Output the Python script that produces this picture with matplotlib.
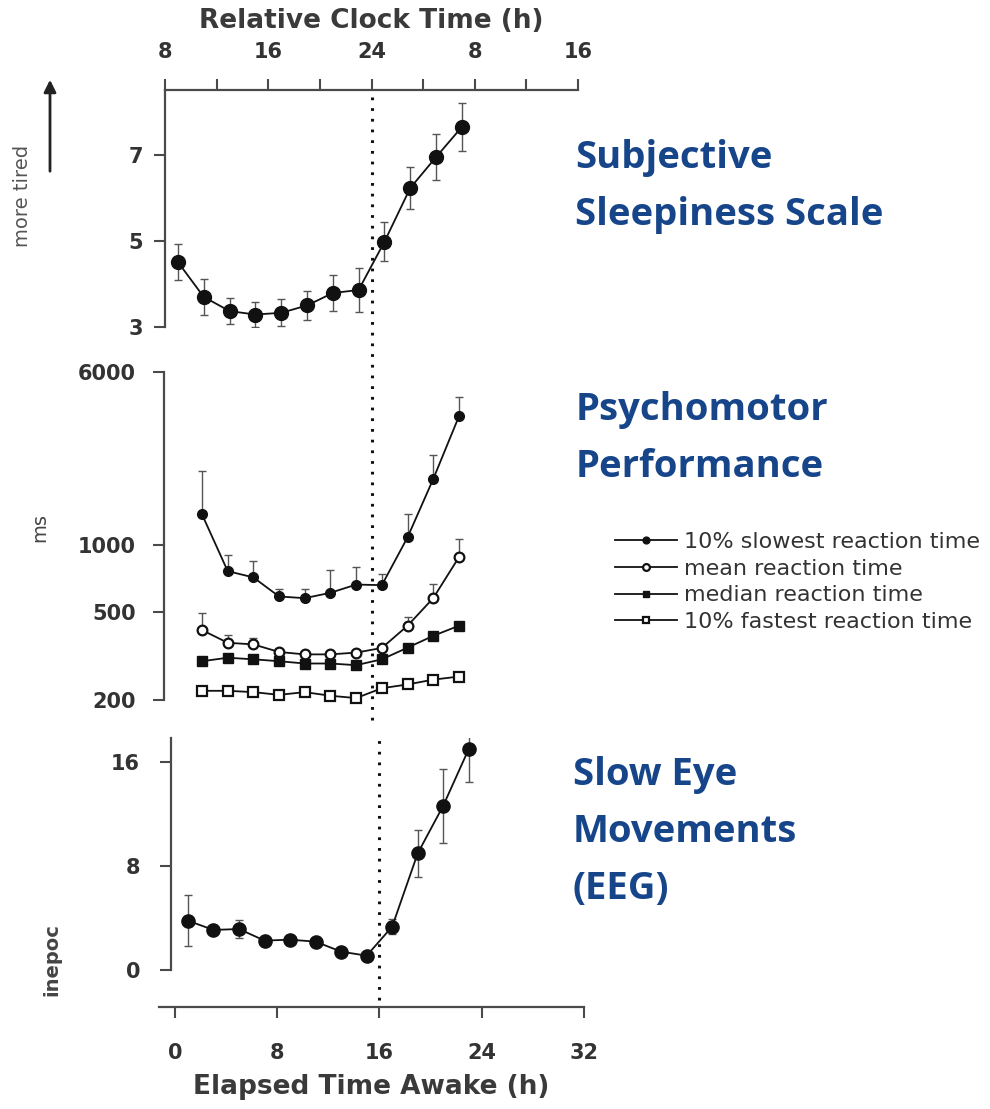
import matplotlib
matplotlib.use("Agg")
import matplotlib.pyplot as plt
from matplotlib.ticker import NullLocator

# ---- data -------------------------------------------------------------
# Subjective sleepiness (Stanford scale), mean +/- SEM
hours_sss = [1, 3, 5, 7, 9, 11, 13, 15, 17, 19, 21, 23]
sss_mean = [4.51, 3.70, 3.37, 3.29, 3.33, 3.50, 3.79, 3.86, 4.98, 6.23, 6.95, 7.65]
sss_err = [0.41, 0.42, 0.31, 0.30, 0.31, 0.34, 0.41, 0.52, 0.45, 0.49, 0.53, 0.55]

# Psychomotor vigilance reaction times (ms)
hours_pvt = [3, 5, 7, 9, 11, 13, 15, 17, 19, 21, 23]
rt_slowest = [1370, 761, 713, 585, 575, 608, 662, 658, 1080, 1977, 3785]
rt_slowest_err = [790, 140, 135, 45, 55, 160, 134, 80, 290, 550, 850]
rt_mean = [413, 362, 356, 329, 321, 321, 327, 343, 432, 575, 879]
rt_mean_err = [80, 31, 25, 10, 8, 8, 10, 14, 40, 93, 182]
rt_median = [299, 310, 305, 299, 292, 292, 287, 305, 344, 389, 432]
rt_fastest = [220, 220, 217, 211, 217, 209, 204, 226, 235, 247, 255]

# Slow eye movements in the EEG/EOG
hours_sem = [1, 3, 5, 7, 9, 11, 13, 15, 17, 19, 21, 23]
sem_rate = [3.79, 3.08, 3.15, 2.26, 2.33, 2.18, 1.41, 1.10, 3.33, 8.97, 12.64, 17.0]
sem_err = [1.95, 0.30, 0.70, 0.30, 0.30, 0.25, 0.30, 0.30, 0.60, 1.80, 2.85, 2.50]

# axis ticks and labels
elapsed_ticks = [0, 8, 16, 24, 32]
elapsed_labels = ["0", "8", "16", "24", "32"]
clock_ticks = [0, 4, 8, 12, 16, 20, 24, 28, 32]
clock_labels = ["8", "", "16", "", "24", "", "8", "", "16"]
sss_ticks = [3, 5, 7]
rt_ticks = [200, 500, 1000, 6000]
sem_ticks = [0, 8, 16]
wake_hour = 16

legend_labels = ["10% slowest reaction time", "mean reaction time",
                 "median reaction time", "10% fastest reaction time"]
panel_titles = [["Subjective", "Sleepiness Scale"],
                ["Psychomotor", "Performance"],
                ["Slow Eye", "Movements", "(EEG)"]]

# ---- style ------------------------------------------------------------
W, H = 990, 1109
INK = "#111111"
AXC = "#4a4a4a"
TXT = "#333333"
BLUE = "#17458A"
plt.rcParams["font.family"] = ["DejaVu Sans"]

fig = plt.figure(figsize=(W / 100, H / 100), dpi=100)
fig.patch.set_facecolor("white")


def box(x0, y0, x1, y1):
    """pixel box (top-left origin) -> figure fraction rect"""
    return [x0 / W, 1 - y1 / H, (x1 - x0) / W, (y1 - y0) / H]


def style_axis(ax):
    for s in ax.spines.values():
        s.set_visible(False)
        s.set_color(AXC)
        s.set_linewidth(1.6)
    ax.tick_params(direction="out", length=8, width=1.5, color=AXC,
                   labelcolor=TXT, labelsize=15)
    ax.set_facecolor("none")


err_kw = dict(ecolor="#555555", elinewidth=1.0, capsize=3, capthick=1.0, zorder=2)

# ---- top: subjective sleepiness -------------------------------------
ax1 = fig.add_axes(box(165, 90, 578, 327))
ax1.set_xlim(0, 32)
ax1.set_ylim(3, 8.51)
ax1.errorbar(hours_sss, sss_mean, yerr=sss_err, fmt="none", **err_kw)
ax1.plot(hours_sss, sss_mean, "-o", color=INK, lw=1.3, ms=10, zorder=3, clip_on=False)
style_axis(ax1)
ax1.spines["left"].set_visible(True)
ax1.spines["top"].set_visible(True)
ax1.xaxis.set_ticks_position("top")
ax1.set_xticks(clock_ticks)
ax1.set_xticklabels(clock_labels, fontweight="bold")
ax1.tick_params(axis="x", pad=12)
ax1.set_yticks(sss_ticks)
ax1.set_yticklabels([str(t) for t in sss_ticks], fontweight="bold")
ax1.tick_params(axis="y", pad=8)
ax1.set_xlabel("Relative Clock Time (h)", fontsize=19, fontweight="bold",
               color="#3a3a3a", labelpad=10)
ax1.xaxis.set_label_position("top")
# wake-time reference line running through the top two panels
ax1.axvline(wake_hour, ymin=-1.66, ymax=1, color=INK, lw=2.2,
            linestyle=(0, (0.9, 2.6)), clip_on=False, zorder=1)

# ---- middle: psychomotor performance (log scale) ----------------------
ax2 = fig.add_axes(box(163.5, 372, 574.5, 700))
ax2.set_xlim(0, 32)
ax2.set_yscale("log")
ax2.set_ylim(200, 6000)
ax2.errorbar(hours_pvt, rt_slowest, yerr=[[0] * len(rt_slowest), rt_slowest_err],
             fmt="none", **err_kw)
ax2.errorbar(hours_pvt, rt_mean, yerr=[[0] * len(rt_mean), rt_mean_err],
             fmt="none", **err_kw)
h1, = ax2.plot(hours_pvt, rt_slowest, "-o", color=INK, lw=1.3, ms=7,
               zorder=3, clip_on=False)
h2, = ax2.plot(hours_pvt, rt_mean, "-o", color=INK, mfc="white", mec=INK,
               mew=1.6, lw=1.3, ms=7, zorder=3, clip_on=False)
h3, = ax2.plot(hours_pvt, rt_median, "-s", color=INK, lw=1.3, ms=6.5,
               zorder=3, clip_on=False)
h4, = ax2.plot(hours_pvt, rt_fastest, "-s", color=INK, mfc="white", mec=INK,
               mew=1.6, lw=1.3, ms=6.5, zorder=3, clip_on=False)
style_axis(ax2)
ax2.spines["left"].set_visible(True)
ax2.set_xticks([])
ax2.yaxis.set_minor_locator(NullLocator())
ax2.set_yticks(rt_ticks)
ax2.set_yticklabels([str(t) for t in rt_ticks], fontweight="bold")
ax2.tick_params(axis="y", pad=12)

fig.legend([h1, h2, h3, h4], legend_labels, loc="upper left",
           bbox_to_anchor=(604 / W, 1 - 521 / H), frameon=False,
           fontsize=16, handlelength=2.8, handletextpad=0.3,
           labelspacing=0.3, borderpad=0, markerscale=0.7,
           labelcolor=TXT)

# ---- bottom: slow eye movements --------------------------------------
ax3 = fig.add_axes(box(159, 738, 583.6, 1007))
ax3.set_xlim(-1.27, 32)
ax3.set_ylim(-2.85, 17.85)
ax3.errorbar(hours_sem, sem_rate, yerr=sem_err, fmt="none", **err_kw)
ax3.plot(hours_sem, sem_rate, "-o", color=INK, lw=1.3, ms=9.5, zorder=3, clip_on=False)
style_axis(ax3)
ax3.spines["left"].set_visible(True)
ax3.spines["left"].set_position(("data", -0.35))
ax3.spines["left"].set_bounds(0, 17.85)
ax3.spines["bottom"].set_visible(True)
ax3.set_xticks(elapsed_ticks)
ax3.set_xticklabels(elapsed_labels, fontweight="bold")
ax3.tick_params(axis="x", pad=18)
ax3.set_yticks(sem_ticks)
ax3.set_yticklabels([str(t) for t in sem_ticks], fontweight="bold")
ax3.tick_params(axis="y", pad=14)
ax3.set_xlabel("Elapsed Time Awake (h)", fontsize=19, fontweight="bold",
               color="#3a3a3a", labelpad=8)
ax3.axvline(wake_hour, ymin=0.026, ymax=1, color=INK, lw=2.2,
            linestyle=(0, (0.9, 2.6)), clip_on=False, zorder=1)

# ---- side annotations --------------------------------------------------
fig.text(23 / W, 1 - 196 / H, "more tired", rotation=90, ha="center",
         va="center", fontsize=14, color="#555555")
fig.add_artist(matplotlib.patches.FancyArrowPatch(
    (50 / W, 1 - 174 / H), (50 / W, 1 - 77 / H), transform=fig.transFigure,
    arrowstyle="-|>", mutation_scale=18, color="#222222", lw=2))
fig.text(40 / W, 1 - 528 / H, "ms", rotation=90, ha="center", va="center",
         fontsize=14, color="#444444")
fig.text(52 / W, 1 - 960 / H, "inepoc", rotation=90, ha="center", va="center",
         fontsize=14, fontweight="bold", color="#444444")

# ---- panel titles --------------------------------------------------------
title_pos = [(575, [168, 225]), (576, [420, 477]), (573, [785, 842, 899])]
for lines, (x, ys) in zip(panel_titles, title_pos):
    for line, y in zip(lines, ys):
        fig.text(x / W, 1 - y / H, line, ha="left", va="baseline",
                 fontsize=27.5, fontweight="bold", color=BLUE, family="Open Sans")

fig.savefig("out.png", dpi=100)
